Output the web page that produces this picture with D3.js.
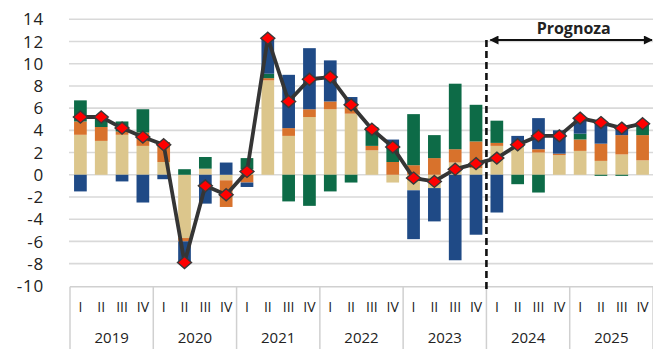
<!DOCTYPE html>
<html>
<head>
<meta charset="utf-8">
<script src="https://cdn.jsdelivr.net/npm/d3@7"></script>
<style>
  html, body { margin: 0; padding: 0; background: #fff; }
  svg { display: block; }
  text { font-family: "Open Sans", "Liberation Sans", sans-serif; fill: #222; }
</style>
</head>
<body>
<svg id="chart" width="653" height="349"></svg>
<script>
// Quarter and year labels
const years = ["2019", "2020", "2021", "2022", "2023", "2024", "2025"];
const quarterNames = ["I", "II", "III", "IV"];

// Contributions by component (percentage points), one value per quarter
const beige  = [3.6, 3.05, 3.6, 2.6, 1.15, -5.7, 0.55, -0.5, 0.5, 8.5, 3.5, 5.2, 5.9, 5.5, 2.2, -0.7, -1.4, -1.2, 1.1, 0.6, 2.6, 2.55, 2.0, 1.77, 2.15, 1.25, 1.83, 1.3];
const orange = [1.2, 1.25, 0.3, 1.2, 1.8, -0.3, 0, -2.4, -0.7, 0.2, 0.7, 0.7, 0.7, 0.9, 0.4, 1.15, 0.86, 1.5, 1.2, 2.4, 0.27, 0, 0.3, 0.13, 1.03, 1.55, 1.74, 2.27];
const green  = [1.9, 1.0, 0.9, 2.1, 0, 0.5, 1.05, 0, 1.0, 0.4, -2.4, -2.8, -1.5, -0.7, 1.7, 1.35, 4.6, 2.07, 5.9, 3.3, 2.0, -0.85, -1.6, 0, 0.52, -0.1, -0.1, 0.95];
const blue   = [-1.5, 0, -0.6, -2.5, -0.4, -2.0, -2.6, 1.1, -0.4, 3.2, 4.8, 5.5, 3.7, 0.6, 0, 0.67, -4.4, -3.0, -7.7, -5.4, -3.4, 0.95, 2.8, 2.1, 1.4, 1.9, 0.6, 0];

// Total growth rate (line with markers)
const total = [5.2, 5.2, 4.2, 3.4, 2.7, -7.9, -1.0, -1.8, 0.3, 12.3, 6.6, 8.6, 8.8, 6.3, 4.1, 2.5, -0.3, -0.6, 0.5, 1.0, 1.5, 2.7, 3.5, 3.5, 5.1, 4.7, 4.2, 4.6];

// Y axis ticks
const yTicks = [-10, -8, -6, -4, -2, 0, 2, 4, 6, 8, 10, 12, 14];

const forecastStartYear = "2024";
const forecastLabel = "Prognoza";

const seriesKeys = ["beige", "orange", "green", "blue"];
const colors = { beige: "#dcc68c", orange: "#d8722c", green: "#0d6b47", blue: "#1f4a86" };

const quarters = [];
years.forEach(yr => quarterNames.forEach(q => quarters.push({ id: yr + "-" + q, year: yr, q })));

const rows = quarters.map((d, i) => ({
  id: d.id, beige: beige[i], orange: orange[i], green: green[i], blue: blue[i], total: total[i]
}));

const svg = d3.select("#chart");
const plotLeft = 70, plotRight = 653, plotTop = 19.3, plotBottom = 285.8;

const x = d3.scaleBand().domain(quarters.map(d => d.id)).range([plotLeft, plotRight]).paddingInner(0.39).paddingOuter(0.195);
const y = d3.scaleLinear().domain([-10, 14]).range([plotBottom, plotTop]);

// Gridlines
svg.append("g").selectAll("line").data(yTicks.filter(t => t > -10)).join("line")
  .attr("x1", plotLeft - 1).attr("x2", plotRight)
  .attr("y1", d => y(d)).attr("y2", d => y(d))
  .attr("stroke", "#d9d9d9").attr("stroke-width", 1.6);

// Y labels
svg.append("g").selectAll("text").data(yTicks).join("text")
  .attr("x", 44).attr("y", d => y(d)).attr("dy", "0.36em")
  .attr("text-anchor", "end").attr("font-size", 17).attr("letter-spacing", 0.8)
  .text(d => d);

// Stacked bars
const stack = d3.stack().keys(seriesKeys).offset(d3.stackOffsetDiverging);
const stacked = stack(rows);
svg.append("g").selectAll("g").data(stacked).join("g")
  .attr("fill", d => colors[d.key])
  .selectAll("rect").data(d => d).join("rect")
  .attr("x", d => x(d.data.id))
  .attr("width", x.bandwidth())
  .attr("y", d => y(Math.max(d[0], d[1])))
  .attr("height", d => Math.abs(y(d[0]) - y(d[1])));

// Category axis box
const axisG = svg.append("g");
const axisTop = plotBottom + 1;
axisG.append("line").attr("x1", plotLeft).attr("x2", plotRight).attr("y1", axisTop).attr("y2", axisTop)
  .attr("stroke", "#d0d0d0").attr("stroke-width", 1.5);
const yearBounds = years.map(yr => x(yr + "-I") - x.step() * x.paddingInner() / 2);
yearBounds[0] = plotLeft;
yearBounds.push(plotRight);
axisG.selectAll("line.sep").data(yearBounds).join("line").attr("class", "sep")
  .attr("x1", d => d).attr("x2", d => d).attr("y1", axisTop).attr("y2", 349)
  .attr("stroke", "#d0d0d0").attr("stroke-width", 1.5);
axisG.selectAll("text.q").data(quarters).join("text").attr("class", "q")
  .attr("x", d => x(d.id) + x.bandwidth() / 2).attr("y", 312)
  .attr("text-anchor", "middle").attr("font-size", 14)
  .text(d => d.q);
axisG.selectAll("text.yr").data(years).join("text").attr("class", "yr")
  .attr("x", (d, k) => (yearBounds[k] + yearBounds[k + 1]) / 2).attr("y", 343)
  .attr("text-anchor", "middle").attr("font-size", 15)
  .text(d => d);

// Forecast marker
const fx = yearBounds[years.indexOf(forecastStartYear)];
svg.append("line").attr("x1", fx).attr("x2", fx).attr("y1", 40).attr("y2", 291)
  .attr("stroke", "#111").attr("stroke-width", 2.6).attr("stroke-dasharray", "7,4");
const defs = svg.append("defs");
defs.append("marker").attr("id", "ah").attr("viewBox", "0 0 10 10").attr("refX", 9).attr("refY", 5)
  .attr("markerWidth", 11).attr("markerHeight", 9).attr("markerUnits", "userSpaceOnUse").attr("orient", "auto-start-reverse")
  .append("path").attr("d", "M0,0 L10,5 L0,10 Z").attr("fill", "#111");
svg.append("line").attr("x1", fx + 4).attr("x2", plotRight - 1).attr("y1", 40).attr("y2", 40)
  .attr("stroke", "#111").attr("stroke-width", 2)
  .attr("marker-start", "url(#ah)").attr("marker-end", "url(#ah)");
svg.append("text").attr("x", (fx + plotRight) / 2 + 4).attr("y", 34)
  .attr("text-anchor", "middle").attr("font-size", 16).attr("font-weight", "bold")
  .text(forecastLabel);

// Total line
const cx = d => x(d.id) + x.bandwidth() / 2;
svg.append("path").datum(rows)
  .attr("fill", "none").attr("stroke", "#353535").attr("stroke-width", 3.8).attr("stroke-linejoin", "round")
  .attr("d", d3.line().x(cx).y(d => y(d.total)));
svg.append("g").selectAll("path").data(rows).join("path")
  .attr("transform", d => `translate(${cx(d)},${y(d.total)})`)
  .attr("d", "M0,-6 L7,0 L0,6 L-7,0 Z")
  .attr("fill", "#ff0000").attr("stroke", "#3a3a3a").attr("stroke-width", 1.4);
</script>
</body>
</html>
